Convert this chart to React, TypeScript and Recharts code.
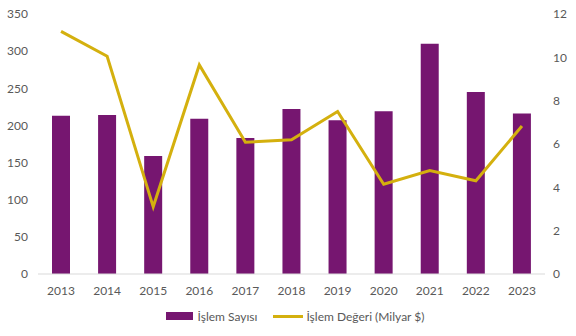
import React from "react";
import { ComposedChart, Bar, Line, XAxis, YAxis, Legend } from "recharts";

const years = ["2013", "2014", "2015", "2016", "2017", "2018", "2019", "2020", "2021", "2022", "2023"];
const dealCount = [213, 214, 159, 209, 183, 222, 207, 219, 310, 245, 216];
const dealValue = [11.2, 10.05, 3.1, 9.65, 6.08, 6.2, 7.5, 4.14, 4.77, 4.3, 6.83];
const leftTicks = [0, 50, 100, 150, 200, 250, 300, 350];
const rightTicks = [0, 2, 4, 6, 8, 10, 12];

const data = years.map((year, i) => ({ year, count: dealCount[i], value: dealValue[i] }));

const PURPLE = "#761670";
const GOLD = "#D4B00E";
const FONT = "Lato, 'Open Sans', sans-serif";
const tick = { fontSize: 12, fill: "#595959", fontFamily: FONT };

function LegendBox() {
  return (
    <div style={{ display: "flex", justifyContent: "center", alignItems: "center", fontFamily: FONT, fontSize: 12, color: "#595959", paddingLeft: 14, height: 28 }}>
      <span style={{ display: "inline-block", width: 27, height: 8, background: PURPLE, marginRight: 5 }} />
      <span style={{ marginRight: 16 }}>İşlem Sayısı</span>
      <span style={{ display: "inline-block", width: 30, height: 3, background: GOLD, marginRight: 3 }} />
      <span>İşlem Değeri (Milyar $)</span>
    </div>
  );
}

export default function App() {
  return (
    <div style={{ position: "absolute", left: 0, top: 0, background: "#fff" }}>
      <ComposedChart width={576} height={336} data={data} margin={{ top: 14, right: 0, bottom: 10, left: 0 }}>
        <XAxis dataKey="year" tickLine={false} axisLine={{ stroke: "#d9d9d9" }} tick={tick} height={24} tickMargin={6} />
        <YAxis yAxisId="left" domain={[0, 350]} ticks={leftTicks} tickLine={false} axisLine={false} tick={tick} width={38} tickMargin={4} />
        <YAxis yAxisId="right" orientation="right" domain={[0, 12]} ticks={rightTicks} tickLine={false} axisLine={false} tick={tick} width={31} />
        <Legend verticalAlign="bottom" height={28} content={<LegendBox />} wrapperStyle={{ bottom: 6 }} />
        <Bar yAxisId="left" dataKey="count" name="İşlem Sayısı" fill={PURPLE} barSize={18} isAnimationActive={false} />
        <Line yAxisId="right" dataKey="value" name="İşlem Değeri (Milyar $)" type="linear" stroke={GOLD} strokeWidth={3} dot={false} isAnimationActive={false} />
      </ComposedChart>
    </div>
  );
}
